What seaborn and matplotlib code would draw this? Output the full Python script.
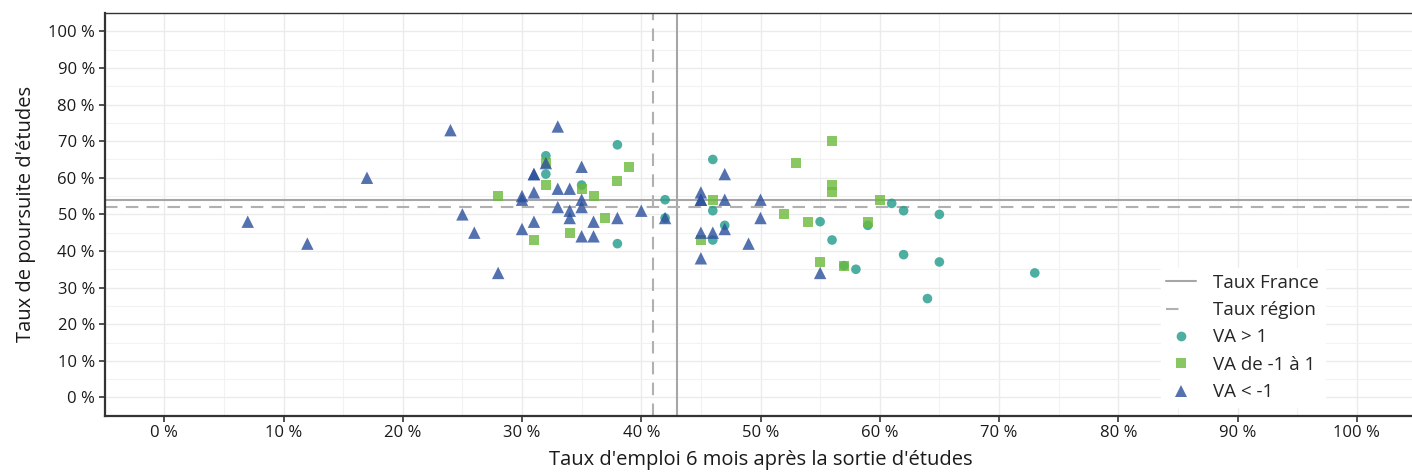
import matplotlib
matplotlib.use("Agg")
import matplotlib.pyplot as plt
import seaborn as sns
import pandas as pd
from matplotlib.lines import Line2D
from matplotlib.ticker import MultipleLocator, FuncFormatter

# VA > 1
x_sup = [32, 32, 35, 38, 38, 42, 42, 46, 46, 46, 47, 55, 56, 57, 58, 59, 61, 62, 62, 64, 65, 65, 73]
y_sup = [66, 61, 58, 69, 42, 54, 49, 65, 51, 43, 47, 48, 43, 36, 35, 47, 53, 51, 39, 27, 50, 37, 34]

# VA de -1 à 1
x_mid = [28, 31, 32, 32, 34, 35, 36, 37, 38, 39, 45, 46, 52, 53, 54, 55, 56, 56, 56, 57, 59, 60]
y_mid = [55, 43, 64, 58, 45, 57, 55, 49, 59, 63, 43, 54, 50, 64, 48, 37, 70, 58, 56, 36, 48, 54]

# VA < -1
x_inf = [7, 12, 17, 24, 25, 26, 28, 30, 30, 30, 31, 31, 31, 31, 32, 33, 33, 33, 34, 34, 34,
         35, 35, 35, 35, 36, 36, 38, 40, 42, 45, 45, 45, 45, 45, 46, 47, 47, 47, 49, 50, 50, 55]
y_inf = [48, 42, 60, 73, 50, 45, 34, 55, 54, 46, 61, 61, 56, 48, 64, 74, 57, 52, 57, 51, 49,
         63, 54, 52, 44, 48, 44, 49, 51, 49, 56, 54, 54, 45, 38, 45, 61, 54, 46, 42, 54, 49, 34]

cats = ["VA > 1", "VA de -1 à 1", "VA < -1"]
taux_france = (43, 54)   # (emploi, poursuite)
taux_region = (41, 52)

df = pd.concat([
    pd.DataFrame({"x": x_sup, "y": y_sup, "cat": cats[0]}),
    pd.DataFrame({"x": x_mid, "y": y_mid, "cat": cats[1]}),
    pd.DataFrame({"x": x_inf, "y": y_inf, "cat": cats[2]}),
])

couleurs = {cats[0]: "#1f9b8a", cats[1]: "#6cba3c", cats[2]: "#2b4f9c"}
marqueurs = {cats[0]: "o", cats[1]: "s", cats[2]: "^"}
tailles = {cats[0]: 48, cats[1]: 52, cats[2]: 80}

sns.set_style("white")
plt.rcParams['font.family'] = ['Open Sans', 'DejaVu Sans']

fig = plt.figure(figsize=(14.12, 4.75), dpi=100)
ax = fig.add_axes([0.0741, 0.1248, 0.929, 0.8478])

ax.axvline(taux_france[0], color="#a6a6a6", lw=1.5, zorder=1)
ax.axhline(taux_france[1], color="#a6a6a6", lw=1.5, zorder=1)
ax.axvline(taux_region[0], color="#b0b0b0", lw=1.5, ls=(0, (6, 4)), zorder=1)
ax.axhline(taux_region[1], color="#b0b0b0", lw=1.5, ls=(0, (6, 4)), zorder=1)

sns.scatterplot(data=df, x="x", y="y", hue="cat", style="cat", size="cat",
                palette=couleurs, markers=marqueurs, sizes=tailles,
                alpha=0.8, linewidth=0, legend=False, ax=ax, zorder=3)

ax.set_xlim(-5, 105)
ax.set_ylim(-5, 105)
ax.xaxis.set_major_locator(MultipleLocator(10))
ax.yaxis.set_major_locator(MultipleLocator(10))
ax.xaxis.set_minor_locator(MultipleLocator(5))
ax.yaxis.set_minor_locator(MultipleLocator(5))
fmt = FuncFormatter(lambda v, p: f"{v:.0f} %")
ax.xaxis.set_major_formatter(fmt)
ax.yaxis.set_major_formatter(fmt)
ax.grid(which="major", color="#ebebeb", lw=1.0)
ax.grid(which="minor", color="#f2f2f2", lw=0.8)
ax.set_axisbelow(True)

ax.tick_params(axis="both", which="major", length=4, width=1.2, color="#333333",
               labelsize=12, labelcolor="#1a1a1a", direction="out", bottom=True, left=True, pad=3)
ax.tick_params(axis="both", which="minor", length=0)
for s in ["left", "bottom"]:
    ax.spines[s].set_color("#333333")
    ax.spines[s].set_linewidth(1.6)
for s in ["top", "right"]:
    ax.spines[s].set_color("#333333")
    ax.spines[s].set_linewidth(1.0)

ax.set_xlabel("Taux d'emploi 6 mois après la sortie d'études", fontsize=14.5, color="#1a1a1a", labelpad=6)
ax.set_ylabel("Taux de poursuite d'études", fontsize=14.5, color="#1a1a1a", labelpad=9)

handles = [
    Line2D([], [], color="#a6a6a6", lw=1.5, label="Taux France"),
    Line2D([], [], color="#b0b0b0", lw=1.5, ls=(0, (6, 30)), label="Taux région"),
]
for c in cats:
    handles.append(Line2D([], [], ls="", marker=marqueurs[c], color=couleurs[c], alpha=0.8,
                          markeredgewidth=0, markersize=7 if c != cats[2] else 8, label=c))
leg = ax.legend(handles=handles, loc="lower right", bbox_to_anchor=(0.930, 0.022), frameon=True,
                fontsize=13.5, handlelength=1.6, handletextpad=0.9, labelspacing=0.5,
                borderpad=0.3, borderaxespad=0.0, fancybox=False)
leg.get_frame().set_facecolor("white")
leg.get_frame().set_edgecolor("white")
leg.get_frame().set_alpha(1)

fig.savefig("out.png", dpi=100)
